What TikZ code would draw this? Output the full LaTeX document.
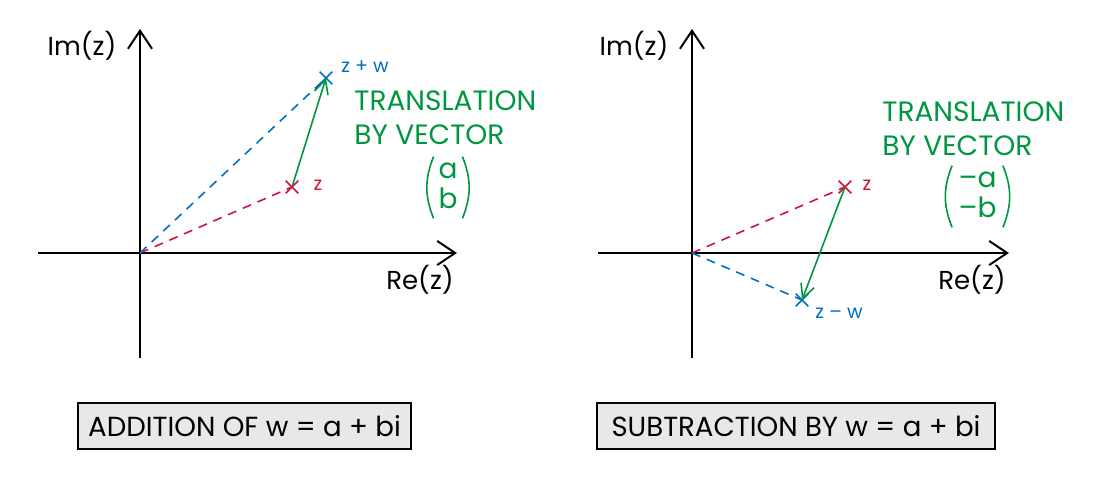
\documentclass[tikz,border=0pt]{standalone}
\usepackage{fontspec}
\setmainfont{Poppins}
\usetikzlibrary{arrows.meta,shapes.misc}
\definecolor{zred}{RGB}{212,16,60}
\definecolor{zblue}{RGB}{0,112,192}
\definecolor{zgreen}{RGB}{0,150,64}
\tikzset{
  axis/.style={line width=1pt,-{Straight Barb[length=9pt,width=12pt,line width=1pt]}},
  pt/.style={cross out,draw,line width=0.8pt,minimum size=5.5pt,inner sep=0pt},
  dashline/.style={line width=0.8pt,dash pattern=on 4.5pt off 3.5pt},
  vec/.style={zgreen,line width=0.8pt,-{Straight Barb[length=7pt,width=7pt,line width=0.8pt]}},
  lbl/.style={font=\fontsize{13}{15}\selectfont},
  small/.style={font=\fontsize{9.5}{11}\selectfont},
  note/.style={zgreen,font=\fontsize{14}{16}\selectfont,inner sep=0pt},
  colv/.style={note,minimum height=30.5pt},
  paren/.style={zgreen,line width=0.8pt},
  box/.style={draw,line width=0.6pt,fill=gray!18,minimum height=23pt,font=\fontsize{13.8}{15}\selectfont}
}
\newcommand{\colvec}[2]{\renewcommand{\arraystretch}{0.92}\begin{tabular}{@{}c@{}}#1\\#2\end{tabular}}
\begin{document}
\begin{tikzpicture}[x=0.5pt,y=-0.5pt]
    \useasboundingbox (0,0) rectangle (1100,496);

    \coordinate (o1) at (140,253);
    \coordinate (xl1) at (38,253);
    \coordinate (xr1) at (457,253);
    \coordinate (yb1) at (140,358);
    \coordinate (yt1) at (140,29);
    \draw[axis] (xl1) -- (xr1);
    \draw[axis] (yb1) -- (yt1);
    \node[lbl] (im1) at (82,46) {Im(z)};
    \node[lbl] (re1) at (420,280) {Re(z)};

    \node[pt,zred] (z1) at (292,187) {};
    \node[pt,zblue] (zw1) at (326,78) {};
    \draw[dashline,zred] (o1) -- (z1.center);
    \draw[dashline,zblue] (o1) -- (zw1.center);
    \draw[vec] (z1.center) -- (zw1.center);
    \node[small,zred] (zl1) at (318,185) {z};
    \node[small,zblue] (zwl1) at (365,67) {z + w};

    \node[note,anchor=west] (tr1) at (354,101) {TRANSLATION};
    \node[note,anchor=west] (by1) at (354,135) {BY VECTOR};
    \node[colv,minimum width=14pt] (v1) at (448,187.5) {\colvec{a}{b}};
    \draw[paren] (v1.north west) to[bend right=22] (v1.south west);
    \draw[paren] (v1.north east) to[bend left=22] (v1.south east);

    \coordinate (o2) at (692,253);
    \coordinate (xl2) at (598,253);
    \coordinate (xr2) at (1009,253);
    \coordinate (yb2) at (692,358);
    \coordinate (yt2) at (692,29);
    \draw[axis] (xl2) -- (xr2);
    \draw[axis] (yb2) -- (yt2);
    \node[lbl] (im2) at (634,46) {Im(z)};
    \node[lbl] (re2) at (972,280) {Re(z)};

    \node[pt,zred] (z2) at (845,187) {};
    \node[pt,zblue] (zmw2) at (802,300) {};
    \draw[dashline,zred] (o2) -- (z2.center);
    \draw[dashline,zblue] (o2) -- (zmw2.center);
    \draw[vec] (z2.center) -- (zmw2.center);
    \node[small,zred] (zl2) at (867,185) {z};
    \node[small,zblue] (zmwl2) at (839,313) {z – w};

    \node[note,anchor=west] (tr2) at (882,112) {TRANSLATION};
    \node[note,anchor=west] (by2) at (882,146) {BY VECTOR};
    \node[colv,minimum width=25pt] (v2) at (977.5,196.5) {\colvec{–a}{–b}};
    \draw[paren] (v2.north west) to[bend right=22] (v2.south west);
    \draw[paren] (v2.north east) to[bend left=22] (v2.south east);

    \node[box,minimum width=166.5pt] (add) at (244.5,426) {ADDITION OF w = a + bi};
    \node[box,minimum width=199pt] (sub) at (796,426) {SUBTRACTION BY w = a + bi};
\end{tikzpicture}
\end{document}
